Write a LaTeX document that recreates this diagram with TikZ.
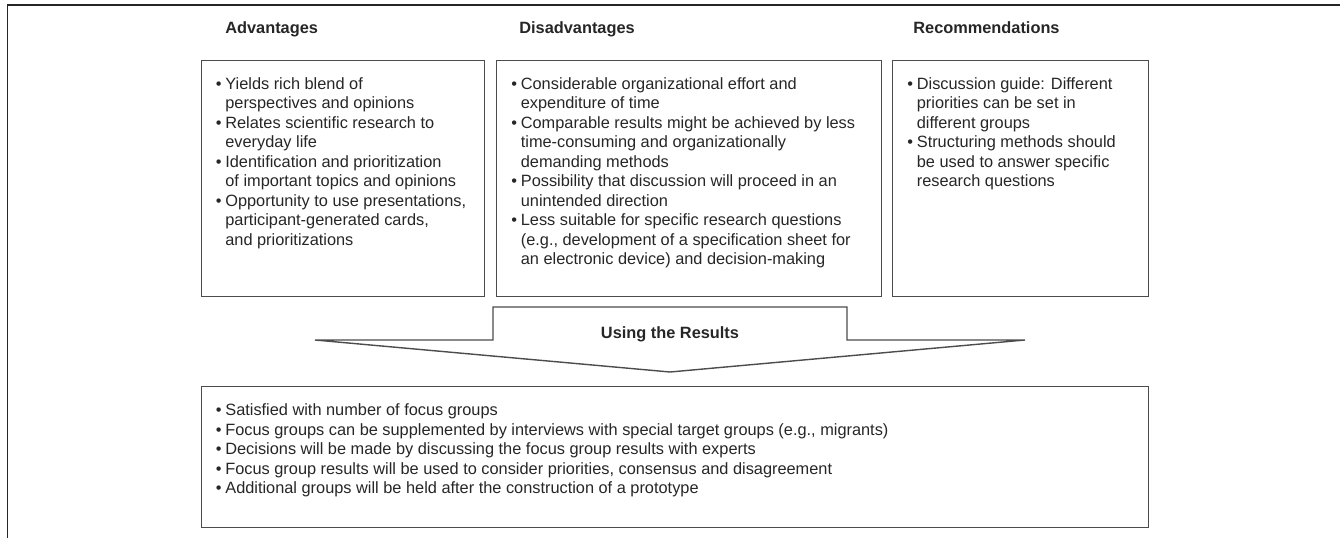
\documentclass[tikz,border=0pt]{standalone}
\usepackage{fontspec}
\setmainfont{Liberation Sans}
\usepackage{xcolor}
\usepackage{tikz}
\usetikzlibrary{positioning}
\newcommand{\itembul}{\makebox[0.19cm][l]{\textbullet}}
\newcommand{\itemind}{\hspace*{0.19cm}}
\tikzset{
    infobox/.style={rectangle, draw=black!70, line width=0.8pt, anchor=north west,
        minimum height=4.72cm, inner sep=0pt},
    listtext/.style={align=left, inner sep=0pt, text=black!85,
        font=\fontsize{9.3}{11.1}\selectfont},
    headtext/.style={inner sep=0pt, text=black!85, font=\fontsize{9.3}{11.1}\selectfont\bfseries},
    resultarrow/.style={draw=black!70, line width=0.8pt, line join=miter},
    framerule/.style={draw=black!85, line width=1.1pt},
}

\begin{document}
\begin{tikzpicture}
    \useasboundingbox (0,0) rectangle (26.8,10.76);
    \draw[framerule] (0.15,0) -- (0.15,10.66) -- (26.8,10.66);

    \node[headtext, anchor=base west] (advhead) at (4.5,10.09) {Advantages};
    \node[headtext, anchor=base west] (dishead) at (10.38,10.09) {Disadvantages};
    \node[headtext, anchor=base west] (rechead) at (18.26,10.09) {Recommendations};

    \node[infobox, minimum width=5.67cm] (adv) at (4.01,9.56) {};
    \node[infobox, minimum width=7.70cm] (dis) at (9.92,9.56) {};
    \node[infobox, minimum width=5.12cm] (rec) at (17.84,9.56) {};

    \node[listtext, below right=0.34cm and 0.30cm of adv.north west] (advtxt) {%
        \itembul Yields rich blend of\\
        \itemind perspectives and opinions\\
        \itembul Relates scientific research to\\
        \itemind everyday life\\
        \itembul Identification and prioritization\\
        \itemind of important topics and opinions\\
        \itembul Opportunity to use presentations,\\
        \itemind participant-generated cards,\\
        \itemind and prioritizations};
    \node[listtext, below right=0.34cm and 0.30cm of dis.north west] (distxt) {%
        \itembul Considerable organizational effort and\\
        \itemind expenditure of time\\
        \itembul Comparable results might be achieved by less\\
        \itemind time-consuming and organizationally\\
        \itemind demanding methods\\
        \itembul Possibility that discussion will proceed in an\\
        \itemind unintended direction\\
        \itembul Less suitable for specific research questions\\
        \itemind (e.g., development of a specification sheet for\\
        \itemind an electronic device) and decision-making};
    \node[listtext, below right=0.34cm and 0.30cm of rec.north west] (rectxt) {%
        \itembul Discussion guide: Different\\
        \itemind priorities can be set in\\
        \itemind different groups\\
        \itembul Structuring methods should\\
        \itemind be used to answer specific\\
        \itemind research questions};

    \draw[resultarrow] (9.86,4.62) -- (16.94,4.62) -- (16.94,3.96) -- (20.50,3.96)
        -- (13.4,3.32) -- (6.30,3.96) -- (9.86,3.96) -- cycle;
    \node[headtext, anchor=base] (usehead) at (13.4,4.0) {Using the Results};

    \node[infobox, minimum width=18.95cm, minimum height=2.82cm] (use) at (4.01,3.05) {};
    \node[listtext, below right=0.36cm and 0.30cm of use.north west] (usetxt) {%
        \itembul Satisfied with number of focus groups\\
        \itembul Focus groups can be supplemented by interviews with special target groups (e.g., migrants)\\
        \itembul Decisions will be made by discussing the focus group results with experts\\
        \itembul Focus group results will be used to consider priorities, consensus and disagreement\\
        \itembul Additional groups will be held after the construction of a prototype};
\end{tikzpicture}
\end{document}
